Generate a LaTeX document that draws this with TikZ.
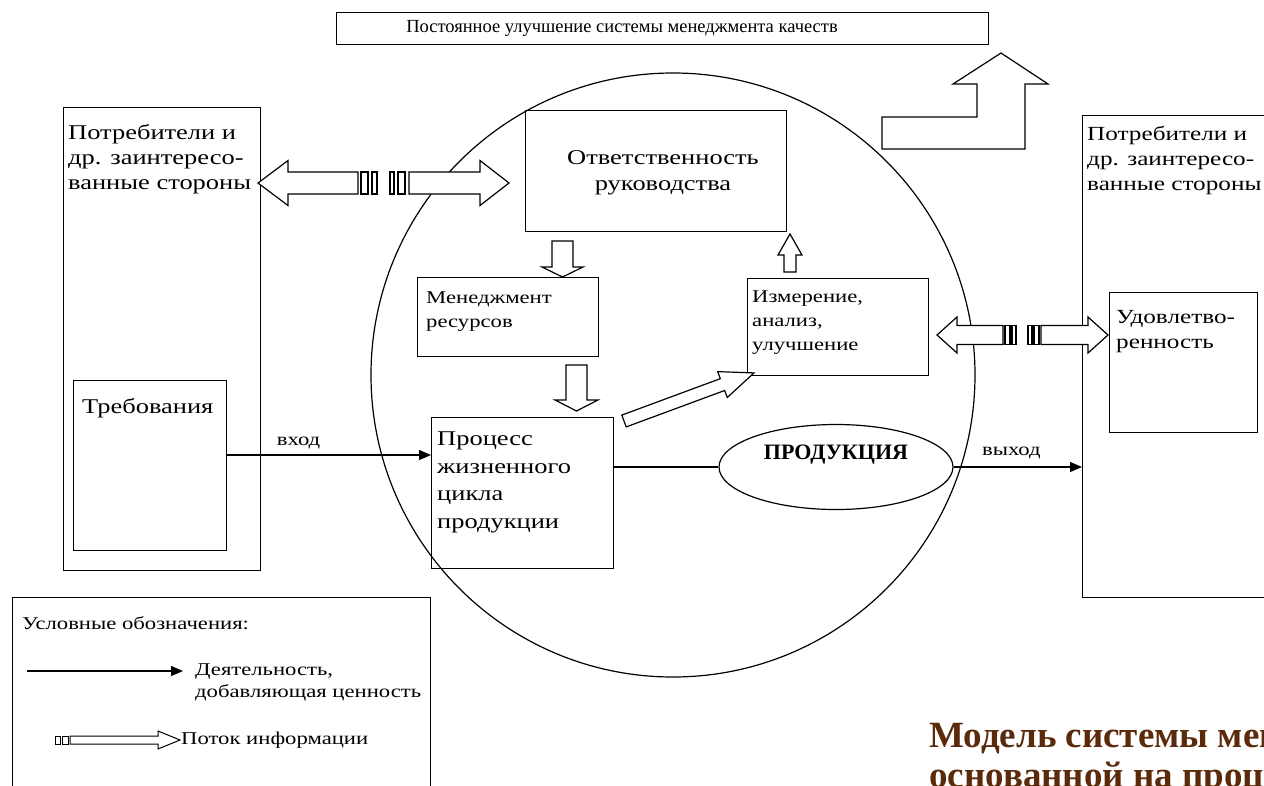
\documentclass[tikz,border=0pt]{standalone}
\usepackage{fontspec}
\setmainfont{Liberation Serif}
\newfontfamily\wideserif{Liberation Serif}[FakeStretch=1.26]
\usetikzlibrary{arrows.meta,positioning,shapes.geometric}
\definecolor{titlebrown}{HTML}{5A2A0A}
\tikzset{box/.style={draw, line width=1.2pt, inner sep=0pt, anchor=north west},
lbl/.style={anchor=north west, align=left, inner sep=0pt, font=\wideserif\fontsize{21}{25}\selectfont},
slbl/.style={lbl, font=\wideserif\fontsize{18}{24}\selectfont},
act/.style={line width=1.2pt, -{Triangle[length=12pt,width=10pt]}},
fat/.style={draw, line width=1.2pt, fill=white, line join=miter}}

\begin{document}
\begin{tikzpicture}[x=1pt,y=-1pt]
\clip (0,0) rectangle (1264,785);
%\draw [help lines, step=50] (0,0) grid (1264,785);

% quality system circle
\draw [line width=1.2pt] (673,375) circle [radius=302pt];

% top banner
\node [box, minimum width=652pt, minimum height=32pt] (impr) at (336,12) {};
\node [font=\fontsize{18.5}{20}\selectfont] at (622,28) {Постоянное улучшение системы менеджмента качеств};

% customers, left
\node [box, minimum width=197pt, minimum height=463pt] (cust1) at (63,107) {};
\node [lbl] at (68,124) {Потребители и\\др. заинтересо-\\ванные стороны};
\node [box, minimum width=153pt, minimum height=170pt] (treb) at (73,380) {};
\node [lbl] at (82,398) {Требования};

% inside the circle
\node [box, minimum width=261pt, minimum height=121pt] (resp) at (525,110) {};
\node [lbl, anchor=north, align=center, font=\wideserif\fontsize{21}{26}\selectfont] at (663,150) {Ответственность\\руководства};
\node [box, minimum width=181pt, minimum height=79pt] (res) at (417,277) {};
\node [slbl] at (426,292) {Менеджмент\\ресурсов};
\node [box, minimum width=182pt, minimum height=151pt] (proc) at (431,417) {};
\node [lbl, font=\wideserif\fontsize{21}{27.5}\selectfont] at (437,432) {Процесс\\жизненного\\цикла\\продукции};
\node [box, minimum width=181pt, minimum height=97pt] (meas) at (747,278) {};
\node [slbl] at (752,291) {Измерение,\\анализ,\\улучшение};
\node [draw, ellipse, line width=1.2pt, minimum width=234pt, minimum height=85pt] (prod) at (836,467) {};
\node [font=\fontsize{22}{24}\selectfont\bfseries] at ([yshift=12pt]prod.center) {ПРОДУКЦИЯ};

% customers, right
\node [box, minimum width=220pt, minimum height=482pt] (cust2) at (1082,115) {};
\node [lbl, font=\wideserif\fontsize{20}{25}\selectfont] at (1087,126) {Потребители и\\др. заинтересо-\\ванные стороны};
\node [box, minimum width=148pt, minimum height=140pt] (sat) at (1109,292) {};
\node [lbl, font=\wideserif\fontsize{20}{25}\selectfont] at (1116,310) {Удовлетво-\\ренность};

% value adding activity
\coordinate (inY) at (0,455);
\draw [act] (treb.east |- inY) -- (proc.west |- inY) node [pos=0.35, above=2pt, font=\wideserif\fontsize{18}{20}\selectfont] {вход};
\draw [line width=1.2pt] (proc.east |- prod.west) -- (prod.west);
\draw [act] (prod.east) -- (cust2.west |- prod.east) node [pos=0.45, above=4pt, font=\wideserif\fontsize{18}{20}\selectfont] {выход};

% information flow, left
\draw [fat] (258,183) -- (288,160.5) -- (288,172) -- (358,172) -- (358,194) -- (288,194) -- (288,205.5) -- cycle;
\draw [fat] (361,172) rectangle (368,194);
\draw [fat] (372,172) rectangle (377,194);
\draw [fat] (390,172) rectangle (394,194);
\draw [fat] (398,172) rectangle (405,194);
\draw [fat] (509,183) -- (480,160.5) -- (480,172) -- (409,172) -- (409,194) -- (480,194) -- (480,205.5) -- cycle;

% information flow, right
\draw [fat] (937,335) -- (957,317) -- (957,325.5) -- (1003,325.5) -- (1003,344.5) -- (957,344.5) -- (957,353) -- cycle;
\draw [fat] (1005,325.5) rectangle (1010,344.5);
\draw [fat] (1012,325.5) rectangle (1016,344.5);
\draw [fat] (1028,325.5) rectangle (1032,344.5);
\draw [fat] (1034,325.5) rectangle (1039,344.5);
\draw [fat] (1108,335) -- (1088,317) -- (1088,325.5) -- (1041,325.5) -- (1041,344.5) -- (1088,344.5) -- (1088,353) -- cycle;

% block arrows
\draw [fat] (552,241) -- (573,241) -- (573,267) -- (583,267) -- (562.5,277) -- (542,267) -- (552,267) -- cycle;
\draw [fat] (566,365) -- (587,365) -- (587,400) -- (598,400) -- (576.5,411) -- (555,400) -- (566,400) -- cycle;
\draw [fat] (784,272) -- (796,272) -- (796,255) -- (802,255) -- (790,234) -- (778,255) -- (784,255) -- cycle;
\begin{scope}[shift={(624,421)}, rotate=20.3]
\draw [fat] (0,-6.3) -- (105,-6.3) -- (105,-13.8) -- (138.6,0) -- (105,13.8) -- (105,6.3) -- (0,6.3) -- cycle;
\end{scope}
\draw [fat] (882,149) -- (882,117) -- (977,117) -- (977,84) -- (953,84) -- (1001,53) -- (1048,84) -- (1025,84) -- (1025,149) -- cycle;

% legend
\node [box, minimum width=418pt, minimum height=250pt] (leg) at (12,597) {};
\node [slbl] at (22,616) {Условные обозначения:};
\coordinate (la1) at (27,671);
\coordinate (la2) at (183,671);
\draw [act] (la1) -- (la2);
\node [slbl, font=\wideserif\fontsize{18}{22}\selectfont] at (195,664) {Деятельность,\\добавляющая ценность};
\draw [fat, line width=1pt] (55,736) rectangle (60,744);
\draw [fat, line width=1pt] (62,736) rectangle (68,744);
\draw [fat, line width=1pt] (70,736) -- (158,736) -- (158,731) -- (180,740) -- (158,749) -- (158,744) -- (70,744) -- cycle;
\node [slbl, anchor=west] at (181,740) {Поток информации};

% caption
\node [lbl, anchor=north west, text=titlebrown, font=\fontsize{37}{40}\selectfont\bfseries] at (929,723) {Модель системы менеджмента качества,\\основанной на процессном подходе};
\end{tikzpicture}
\end{document}
